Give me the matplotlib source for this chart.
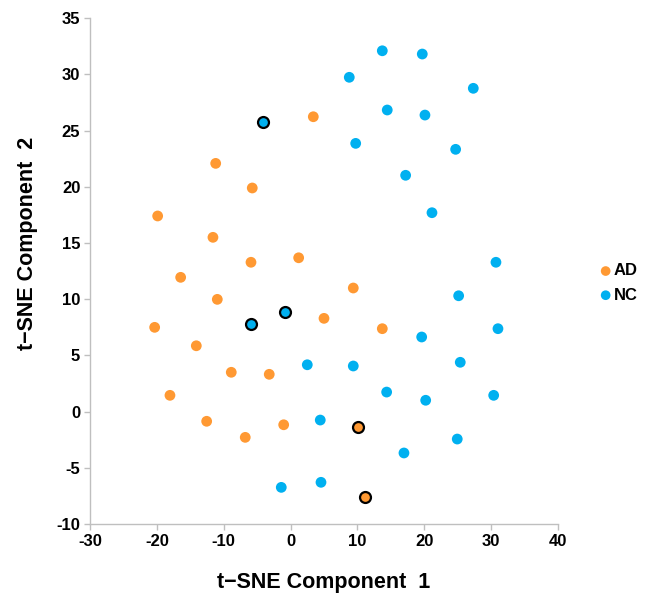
import matplotlib
matplotlib.use("Agg")
import matplotlib.pyplot as plt

plt.rcParams['font.family'] = ['Liberation Sans', 'DejaVu Sans']

# AD group (orange)
ad_x = [3.40, -11.20, -5.73, -19.88, -11.61, -5.92, 1.21, -16.44, -10.96, 9.38,
        5.00, 13.72, -20.33, -14.10, -8.87, -3.19, -18.04, -12.55, -6.78, -1.03]
ad_y = [26.24, 22.09, 19.90, 17.41, 15.51, 13.29, 13.69, 11.95, 9.99, 11.00,
        8.30, 7.38, 7.50, 5.86, 3.50, 3.32, 1.45, -0.86, -2.29, -1.17]
# AD highlighted (black outline)
ad_hl_x = [10.08, 11.13]
ad_hl_y = [-1.34, -7.57]

# NC group (blue)
nc_x = [13.72, 19.70, 8.78, 27.33, 14.46, 20.10, 9.74, 24.69, 17.21, 21.15,
        30.72, 25.14, 31.02, 19.61, 2.50, 9.38, 25.38, 14.37, 20.21, 30.38,
        4.44, 24.93, 16.96, 4.55, -1.39]
nc_y = [32.11, 31.82, 29.75, 28.77, 26.84, 26.39, 23.87, 23.34, 21.03, 17.70,
        13.29, 10.31, 7.38, 6.64, 4.17, 4.06, 4.39, 1.74, 1.01, 1.45,
        -0.75, -2.44, -3.68, -6.29, -6.74]
# NC highlighted (black outline)
nc_hl_x = [-4.08, -0.88, -5.97]
nc_hl_y = [25.80, 8.84, 7.79]

x_ticks = [-30, -20, -10, 0, 10, 20, 30, 40]
y_ticks = [-10, -5, 0, 5, 10, 15, 20, 25, 30, 35]

orange = '#FF9933'
blue = '#00B0F0'

fig = plt.figure(figsize=(6.51, 6.01), dpi=100)
ax = fig.add_axes([90/651, 1-524/601, (558-90)/651, (524-18.3)/601])

ax.scatter(ad_x, ad_y, s=60, c=orange, edgecolors='none', label='AD', zorder=3)
ax.scatter(nc_x, nc_y, s=60, c=blue, edgecolors='none', label='NC', zorder=3)
ax.scatter(ad_hl_x, ad_hl_y, s=62, c=orange, edgecolors='black', linewidths=1.6, zorder=4)
ax.scatter(nc_hl_x, nc_hl_y, s=62, c=blue, edgecolors='black', linewidths=1.6, zorder=4)

ax.set_xlim(-30, 40)
ax.set_ylim(-10, 35)
ax.set_xticks(x_ticks)
ax.set_yticks(y_ticks)
ax.set_xticklabels([str(t) for t in x_ticks], fontweight='bold', fontsize=12)
ax.set_yticklabels([str(t) for t in y_ticks], fontweight='bold', fontsize=12)

for s in ['top', 'right']:
    ax.spines[s].set_visible(False)
for s in ['left', 'bottom']:
    ax.spines[s].set_color('#BFBFBF')
    ax.spines[s].set_linewidth(1.0)
ax.tick_params(axis='both', direction='out', length=4, color='#BFBFBF', width=1.0, pad=3)

ax.set_xlabel('t\u2212SNE Component  1', fontsize=15.5, fontweight='bold')
ax.xaxis.set_label_coords(0.5, -0.094)
ax.set_ylabel('t\u2212SNE Component  2', fontsize=15.5, fontweight='bold')
ax.yaxis.set_label_coords(-0.112, 0.555)

leg = fig.legend(handles=ax.collections[:2], labels=['AD', 'NC'],
                 loc='center left', bbox_to_anchor=(589/651, 1-283/601),
                 frameon=False, prop={'weight': 'bold', 'size': 12},
                 handletextpad=0.0, markerscale=0.9, labelspacing=0.55,
                 handlelength=1.0, borderpad=0)

fig.savefig('out.png', dpi=100)
